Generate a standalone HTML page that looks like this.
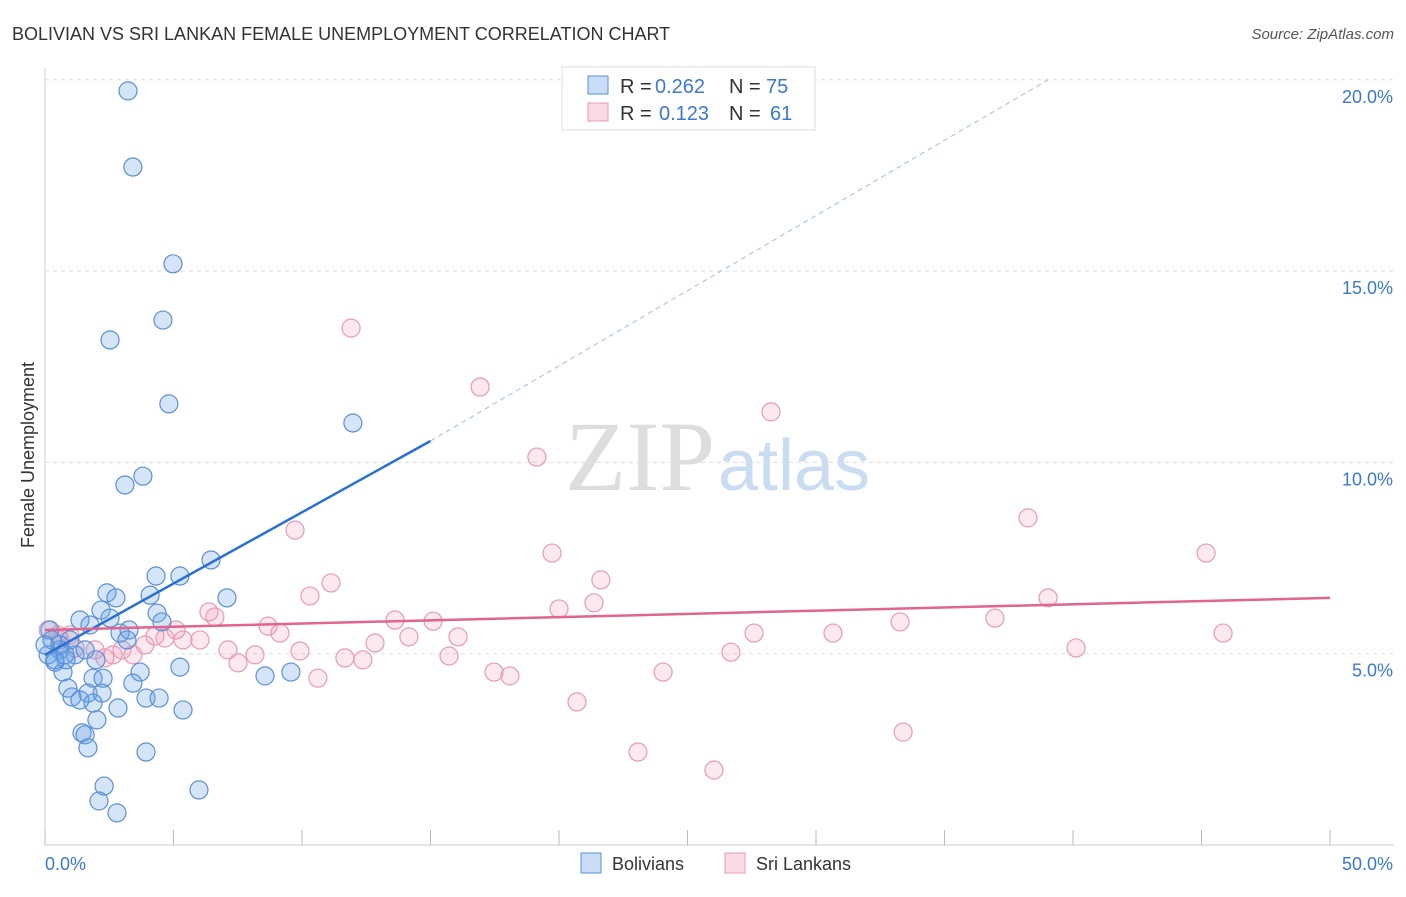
<!DOCTYPE html>
<html><head><meta charset="utf-8"><style>
body{margin:0;background:#fff;font-family:"Liberation Sans",sans-serif}
#c{position:relative;width:1406px;height:892px}
</style></head><body>
<div id="c">
<svg id="s" width="1406" height="892">
<text x="12" y="40" font-size="18" fill="#333">BOLIVIAN VS SRI LANKAN FEMALE UNEMPLOYMENT CORRELATION CHART</text>
<text x="1394" y="39" font-size="15" fill="#555" text-anchor="end" font-style="italic">Source: ZipAtlas.com</text>
<text x="715" y="490" font-size="100" fill="#ddd" text-anchor="end" font-family="Liberation Serif">ZIP</text>
<text x="718" y="490" font-size="72" fill="#c9dcf2">atlas</text>
<text transform="translate(34,455) rotate(-90)" font-size="18" fill="#333" text-anchor="middle">Female Unemployment</text>
<g id="grid"></g><g id="pts"></g><g id="lines"></g>
<g>
<rect x="562" y="67" width="253" height="63" fill="#fff" stroke="#ddd"/>
<rect x="588" y="76" width="20" height="18" fill="rgba(100,160,230,0.35)" stroke="#5b8fd6"/>
<rect x="588" y="103" width="20" height="18" fill="rgba(240,150,180,0.35)" stroke="#e89ab5"/>
<text x="620" y="93" font-size="20" fill="#333">R =</text>
<text x="655" y="93" font-size="20" fill="#3a78d4">0.262</text>
<text x="729" y="93" font-size="20" fill="#333">N =</text>
<text x="766" y="93" font-size="20" fill="#3a78d4">75</text>
<text x="620" y="120" font-size="20" fill="#333">R =</text>
<text x="659" y="120" font-size="20" fill="#3a78d4">0.123</text>
<text x="729" y="120" font-size="20" fill="#333">N =</text>
<text x="770" y="120" font-size="20" fill="#3a78d4">61</text>
</g>
<g>
<rect x="581" y="853" width="20" height="20" fill="rgba(100,160,230,0.35)" stroke="#5b8fd6"/>
<text x="612" y="870" font-size="18" fill="#333">Bolivians</text>
<rect x="725" y="853" width="20" height="20" fill="rgba(240,150,180,0.35)" stroke="#e89ab5"/>
<text x="756" y="870" font-size="18" fill="#333">Sri Lankans</text>
</g>
</svg></div>
<script>
const bx=[3.23,3.42,4.98,4.59,2.53,4.82,11.98,3.11,3.81,6.46,4.32,5.25,2.41,4.09,2.76,7.08,2.18,4.36,1.36,2.53,1.75,4.55,3.27,2.92,3.19,0.97,0.27,0.58,0.12,1.17,1.98,0.39,5.25,3.70,8.56,9.57,0.70,1.87,2.26,3.42,0.89,1.05,1.67,2.22,3.93,4.44,1.36,1.87,5.37,2.84,2.02,1.44,1.56,1.67,3.93,2.30,5.99,2.10,2.80,0.19,0.58,0.82,1.56,0.0,0.39,0.78];
const by=[19.71,17.72,15.19,13.72,13.20,11.53,11.03,9.41,9.64,7.45,7.03,7.03,6.59,6.53,6.46,6.46,6.14,6.06,5.88,5.93,5.75,5.83,5.62,5.54,5.36,5.36,5.36,5.10,4.97,4.97,4.84,4.78,4.65,4.52,4.42,4.52,4.52,4.36,4.36,4.23,4.10,3.87,3.97,3.97,3.84,3.84,3.79,3.71,3.53,3.58,3.27,2.93,2.88,2.54,2.43,1.54,1.44,1.15,0.84,5.62,5.23,4.84,5.10,5.23,4.84,4.97];
const px=[11.91,16.93,28.25,19.14,38.25,9.73,19.73,45.18,21.63,11.13,10.31,39.03,21.36,20.00,6.38,6.61,13.62,15.10,8.68,36.96,33.27,5.10,27.59,30.66,45.84,9.14,4.28,4.67,6.03,14.16,16.07,12.84,5.37,7.12,9.92,8.17,40.12,26.69,15.72,11.67,12.37,7.51,3.00,3.42,2.33,1.95,0.97,0.58,1.17,0.12,0.51,17.47,18.09,24.05,10.62,20.70,33.39,23.07,26.03,2.65,3.89];
const py=[13.51,11.97,11.32,10.14,8.55,8.23,7.63,7.63,6.93,6.85,6.51,6.46,6.33,6.17,6.09,5.96,5.88,5.85,5.72,5.93,5.83,5.62,5.54,5.54,5.54,5.54,5.46,5.41,5.36,5.44,5.44,5.28,5.36,5.10,5.07,4.97,5.15,5.04,4.94,4.89,4.84,4.76,5.10,4.97,4.89,5.10,5.49,5.36,5.15,5.62,5.49,4.52,4.42,4.52,4.36,3.74,2.95,2.43,1.96,4.97,5.23];
const yTicks=[5,10,15,20];
const blueTrend=[[0,4.97],[15,10.56],[39.03,20.0]];
const pinkTrend=[[0,5.62],[50,6.46]];
const X=v=>45+v*25.7, Y=v=>845-v*38.26;
const NS='http://www.w3.org/2000/svg';
function mk(t,a,p){const e=document.createElementNS(NS,t);for(const k in a)e.setAttribute(k,a[k]);p.appendChild(e);return e;}
const g=document.getElementById('grid');
let ax=mk('line',{x1:45,y1:68,x2:45,y2:845,stroke:'#ccc'},g);

let bl=mk('line',{x1:45,y1:845,x2:1394,y2:845,stroke:'#ccc'},g);

for(let i=0;i<=10;i++){const t=mk('line',{x1:X(i*5),y1:830,x2:X(i*5),y2:845,stroke:'#bbb'},g);
}
yTicks.forEach(v=>{const l=mk('line',{x1:45,y1:Y(v),x2:1394,y2:Y(v),stroke:'#ddd','stroke-dasharray':'4,4'},g);

const t=mk('text',{x:1393,y:Y(v)+23,'font-size':18,fill:'#3a78d4','text-anchor':'end'},g);t.textContent=v.toFixed(1)+'%';
});
let t0=mk('text',{x:45,y:870,'font-size':18,fill:'#3a78d4'},g);t0.textContent='0.0%';

let t1=mk('text',{x:1393,y:870,'font-size':18,fill:'#3a78d4','text-anchor':'end'},g);t1.textContent='50.0%';

const P=document.getElementById('pts');
px.forEach((v,i)=>{const c=mk('circle',{cx:X(v),cy:Y(py[i]),r:9,fill:'rgba(240,150,180,0.22)',stroke:'#e89ab5','stroke-width':1.2},P);
});
bx.forEach((v,i)=>{const c=mk('circle',{cx:X(v),cy:Y(by[i]),r:9,fill:'rgba(100,160,230,0.28)',stroke:'#5b8fd6','stroke-width':1.2},P);
});
const L=document.getElementById('lines');
let b1=mk('line',{x1:X(blueTrend[0][0]),y1:Y(blueTrend[0][1]),x2:X(blueTrend[1][0]),y2:Y(blueTrend[1][1]),stroke:'#2a6fd6','stroke-width':2.5},L);

let b2=mk('line',{x1:X(blueTrend[1][0]),y1:Y(blueTrend[1][1]),x2:X(blueTrend[2][0]),y2:Y(blueTrend[2][1]),stroke:'#9dbde8','stroke-width':1,'stroke-dasharray':'5,4'},L);

let p1=mk('line',{x1:X(pinkTrend[0][0]),y1:Y(pinkTrend[0][1]),x2:X(pinkTrend[1][0]),y2:Y(pinkTrend[1][1]),stroke:'#e0648f','stroke-width':2.5},L);

</script></body></html>
